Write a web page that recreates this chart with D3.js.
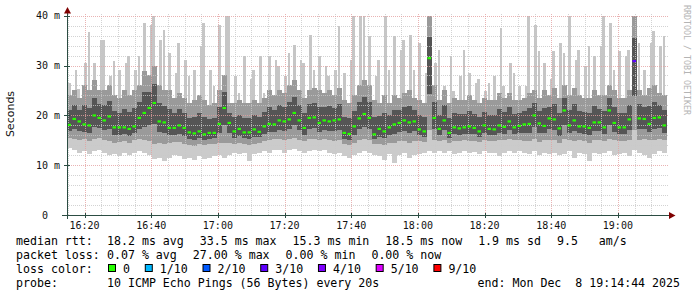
<!DOCTYPE html>
<html>
<head>
<meta charset="utf-8">
<script src="https://cdn.jsdelivr.net/npm/d3@7/dist/d3.min.js"></script>
<style>
  body { margin: 0; background: #fff; }
  svg { display: block; }
  text { font-family: "DejaVu Sans Mono", monospace; white-space: pre; }
</style>
</head>
<body>
<div id="vis"></div>
<script>
// one column = 90 s, 3 hours ending 19:14:44
const start = new Date(2025, 11, 8, 16, 14, 44);
const end = new Date(2025, 11, 8, 19, 14, 44);
const step = 90;

const median = [
  18.1, 19.3, 18.8, 18.2, 18.0, 20.0, 19.5, 19.0, 19.8, 17.6, 17.6, 17.6, 17.3, 17.8, 19.5, 20.5, 21.5, 22.5, 18.8, 18.6, 17.5, 17.5, 18.0, 17.5, 16.6, 16.4, 16.8, 16.2, 16.5, 16.5,
  18.3, 21.5, 18.5, 16.8, 17.3, 16.6, 16.6, 17.2, 16.7, 17.8, 18.3, 18.2, 19.0, 18.8, 19.2, 20.5, 19.0, 17.5, 19.5, 19.6, 18.5, 19.0, 18.8, 19.0, 19.2, 16.5, 16.3, 17.8, 19.4, 20.3,
  19.5, 16.2, 17.3, 16.8, 17.6, 18.2, 18.5, 19.0, 18.6, 18.8, 17.2, 16.8, 31.5, 19.5, 17.3, 19.0, 16.5, 17.6, 17.4, 17.6, 17.8, 17.5, 16.8, 18.0, 17.3, 17.2, 18.0, 17.7, 18.8, 17.6,
  17.9, 18.2, 18.3, 20.0, 18.4, 17.9, 19.4, 19.2, 17.4, 21.0, 18.0, 19.0, 17.8, 17.8, 17.5, 18.6, 18.6, 17.6, 21.0, 18.5, 17.6, 17.6, 19.2, 30.9, 19.4, 19.3, 18.3, 19.5, 19.6, 18.0
];
const lo = [
  13.5, 13.0, 12.5, 12.8, 12.2, 12.8, 13.0, 12.5, 12.0, 12.2, 11.8, 12.5, 12.0, 12.5, 12.8, 12.5, 12.0, 11.2, 11.5, 10.8, 11.5, 12.0, 11.8, 11.2, 11.5, 11.0, 11.8, 11.2, 11.5, 11.8,
  12.0, 11.5, 12.0, 12.5, 12.2, 12.5, 10.8, 12.2, 12.5, 12.8, 12.5, 13.0, 13.0, 12.5, 13.0, 13.2, 12.8, 12.5, 12.8, 13.0, 12.8, 13.0, 12.5, 12.2, 12.5, 11.8, 11.5, 12.0, 12.5, 12.8,
  12.5, 12.0, 11.8, 11.0, 12.2, 10.5, 12.0, 12.5, 11.5, 12.0, 12.2, 12.5, 12.8, 12.5, 12.8, 12.5, 12.8, 12.2, 12.5, 12.8, 12.5, 12.6, 12.2, 12.8, 12.5, 12.4, 11.8, 12.5, 12.8, 12.5,
  12.8, 12.5, 12.2, 12.8, 12.0, 12.5, 12.2, 12.5, 12.0, 12.2, 12.8, 11.5, 12.5, 12.3, 10.8, 12.5, 12.2, 12.5, 12.8, 12.0, 12.3, 12.5, 11.8, 13.0, 12.5, 12.0, 11.5, 12.2, 12.8, 12.5
];
const q1 = [
  15.5, 15.2, 15.0, 15.3, 14.8, 15.2, 15.5, 15.0, 14.8, 14.5, 14.6, 14.8, 14.5, 15.0, 15.2, 15.0, 14.8, 14.2, 14.5, 14.2, 14.5, 14.6, 14.6, 14.3, 14.0, 13.8, 14.2, 14.0, 14.2, 14.3,
  14.5, 14.5, 14.5, 14.3, 14.5, 14.2, 14.0, 14.3, 14.5, 14.8, 15.0, 15.2, 15.2, 15.0, 15.2, 15.5, 15.0, 14.8, 15.2, 15.3, 15.0, 15.2, 15.0, 14.8, 15.0, 14.2, 14.0, 14.5, 15.0, 15.2,
  15.0, 14.3, 14.2, 14.0, 14.5, 14.5, 14.8, 14.8, 14.5, 14.8, 14.8, 14.6, 17.0, 15.0, 14.8, 15.0, 14.5, 14.8, 14.8, 15.0, 14.8, 14.9, 14.6, 15.0, 14.8, 14.8, 15.0, 15.0, 15.2, 15.0,
  15.0, 14.8, 14.8, 15.2, 14.6, 15.0, 15.0, 15.0, 14.5, 15.2, 15.0, 14.8, 15.0, 14.8, 14.5, 15.0, 15.0, 14.8, 15.2, 15.0, 14.8, 14.8, 15.0, 17.0, 15.0, 15.2, 15.0, 15.0, 15.2, 15.0
];
const q3 = [
  24.0, 25.0, 23.5, 26.0, 25.0, 27.0, 25.0, 25.0, 26.0, 24.0, 23.5, 25.0, 24.0, 25.0, 26.0, 29.0, 28.0, 30.0, 26.0, 25.0, 25.0, 23.5, 24.5, 23.5, 22.5, 23.0, 24.0, 23.0, 22.0, 22.5,
  25.0, 28.0, 22.5, 22.5, 23.0, 22.5, 22.5, 23.0, 22.5, 23.5, 25.0, 24.0, 25.0, 24.5, 26.0, 27.0, 25.0, 23.5, 25.0, 25.5, 25.0, 24.5, 25.0, 24.0, 25.5, 23.0, 22.5, 24.0, 26.0, 27.0,
  26.0, 23.0, 22.5, 24.0, 22.5, 24.0, 23.5, 24.5, 25.0, 23.5, 23.0, 22.5, 40.0, 26.0, 23.0, 25.0, 22.5, 23.5, 23.0, 23.0, 24.0, 23.0, 22.5, 23.5, 23.0, 23.0, 24.5, 23.5, 24.5, 23.0,
  23.0, 23.5, 24.5, 25.0, 23.5, 25.0, 24.0, 25.5, 23.5, 26.0, 24.0, 25.5, 24.0, 23.5, 23.5, 25.0, 24.0, 24.0, 26.0, 25.0, 23.5, 23.5, 25.0, 40.0, 25.0, 24.0, 25.5, 26.0, 24.5, 24.0
];
const hi = [
  26.5, 29.2, 25.2, 30.5, 36.8, 30.5, 35.2, 35.2, 27.9, 30.9, 29.2, 30.5, 31.9, 29.2, 31.9, 38.6, 38.2, 40.0, 35.2, 37.2, 32.5, 28.5, 34.5, 31.2, 27.9, 29.2, 33.9, 38.5, 29.2, 25.9,
  38.2, 40.0, 39.9, 27.9, 24.5, 31.9, 27.2, 29.2, 31.9, 24.5, 32.0, 31.2, 29.9, 27.9, 32.5, 34.2, 31.2, 30.5, 36.2, 29.2, 31.9, 29.9, 27.9, 29.2, 38.0, 28.5, 31.2, 39.9, 40.0, 39.9,
  36.0, 27.9, 31.2, 40.0, 29.2, 35.9, 33.2, 35.2, 36.2, 29.2, 34.5, 28.5, 40.0, 30.5, 33.2, 25.9, 31.9, 24.8, 27.9, 33.2, 28.5, 26.5, 27.2, 24.8, 26.5, 27.9, 37.5, 25.9, 30.5, 28.5,
  25.9, 25.9, 39.9, 38.2, 33.0, 30.5, 27.2, 33.0, 34.5, 32.5, 39.9, 31.2, 33.2, 29.9, 34.0, 31.9, 33.9, 39.9, 38.5, 29.2, 33.0, 31.9, 33.2, 40.0, 34.5, 29.2, 34.5, 37.0, 34.0, 36.0
];
// columns with packet loss and their legend class
const lossCol = [113];
const lossLevel = [3];

const lossLabels = ['0', '1/10', '2/10', '3/10', '4/10', '5/10', '9/10'];
const lossColors = ['#26ff00', '#00b8ff', '#0059ff', '#5e00ff', '#7e00ff', '#dd00ff', '#ff0000'];

const yTickValues = [0, 10, 20, 30, 40];
const yTickLabels = [' 0  ', '10 m', '20 m', '30 m', '40 m'];

const rttStats = ['18.2 ms avg', '33.5 ms max', '15.3 ms min', '18.5 ms now', '1.9 ms sd', '9.5   am/s'];
const lossStats = ['0.07 % avg', '27.00 % max', '0.00 % min', '0.00 % now'];
const probeText = '10 ICMP Echo Pings (56 Bytes) every 20s';
const endText = 'end: Mon Dec  8 19:14:44 2025';

const W = 697, H = 297;
const svg = d3.select('#vis').append('svg').attr('width', W).attr('height', H);

const x = d3.scaleTime().domain([start, end]).range([67, 667]);
const y = d3.scaleLinear().domain([0, 40]).range([215, 15.7]);

const colTime = (i) => new Date(start.getTime() + i * step * 1000);

// smoke
const smoke = svg.append('g').attr('shape-rendering', 'crispEdges');
const cols = d3.range(median.length);
const cx = (i) => Math.round(x(colTime(i)));
const cw = (i) => Math.round(x(colTime(i + 1))) - cx(i);
const spikeOff = [1, 2.5, 0, 2, 0.5];

smoke.selectAll('.base').data(cols).join('rect')
  .attr('x', cx).attr('width', cw)
  .attr('y', (i) => y(q3[i])).attr('height', (i) => y(lo[i]) - y(q3[i]))
  .attr('fill', '#cbcbcb');
smoke.selectAll('.spike').data(cols).join('rect')
  .attr('x', (i) => cx(i) + spikeOff[i % spikeOff.length]).attr('width', 2.5)
  .attr('y', (i) => y(hi[i])).attr('height', (i) => y(q3[i]) - y(hi[i]))
  .attr('fill', '#c6c6c6');
smoke.selectAll('.mid').data(cols).join('rect')
  .attr('x', cx).attr('width', cw)
  .attr('y', (i) => y(q3[i])).attr('height', (i) => y(q1[i]) - y(q3[i]))
  .attr('fill', '#9a9a9a');
smoke.selectAll('.core').data(cols).join('rect')
  .attr('x', cx).attr('width', cw)
  .attr('y', (i) => y((q3[i] + median[i]) / 2))
  .attr('height', (i) => y((q1[i] + median[i]) / 2) - y((q3[i] + median[i]) / 2))
  .attr('fill', '#555555');

const lossOf = (i) => {
  const k = lossCol.indexOf(i);
  return k < 0 ? 0 : lossLevel[k];
};

// grid (dotted, drawn over the smoke like rrdtool does)
const grid = svg.append('g').attr('shape-rendering', 'crispEdges');
const minorX = d3.timeMinute.every(5).range(start, end);
const majorX = d3.timeMinute.every(20).range(start, end);
const minorY = d3.range(2, 41, 2).filter((d) => d % 10 !== 0);

grid.selectAll('.gx').data(minorX.filter((d) => d.getMinutes() % 20 !== 0)).join('line')
  .attr('x1', (d) => Math.round(x(d)) + 0.5).attr('x2', (d) => Math.round(x(d)) + 0.5)
  .attr('y1', y(0)).attr('y2', y(40) - 2)
  .attr('stroke', '#c8c8c8').attr('stroke-opacity', 0.8).attr('stroke-dasharray', '1,1');
grid.selectAll('.gy').data(minorY).join('line')
  .attr('y1', (d) => Math.round(y(d)) + 0.5).attr('y2', (d) => Math.round(y(d)) + 0.5)
  .attr('x1', 67).attr('x2', 668)
  .attr('stroke', '#c8c8c8').attr('stroke-opacity', 0.8).attr('stroke-dasharray', '1,1');
grid.selectAll('.mx').data(majorX).join('line')
  .attr('x1', (d) => Math.round(x(d)) + 0.5).attr('x2', (d) => Math.round(x(d)) + 0.5)
  .attr('y1', y(0)).attr('y2', y(40) - 2)
  .attr('stroke', '#e4a0a0').attr('stroke-opacity', 0.8).attr('stroke-dasharray', '1,1');
grid.selectAll('.my').data(yTickValues.slice(1)).join('line')
  .attr('y1', (d) => Math.round(y(d)) + 0.5).attr('y2', (d) => Math.round(y(d)) + 0.5)
  .attr('x1', 67).attr('x2', 668)
  .attr('stroke', '#e4a0a0').attr('stroke-opacity', 0.8).attr('stroke-dasharray', '1,1');

svg.append('g').selectAll('.med').data(cols).join('rect')
  .attr('x', (i) => cx(i) + 0.5).attr('width', 3.5)
  .attr('y', (i) => y(median[i]) - 1).attr('height', 2.2)
  .attr('fill', (i) => lossColors[lossOf(i)]);

// axes
const axis = svg.append('g').attr('shape-rendering', 'crispEdges');
axis.append('line').attr('x1', 62).attr('x2', 669).attr('y1', 215.5).attr('y2', 215.5)
  .attr('stroke', '#2c4d43');
axis.append('line').attr('x1', 67.5).attr('x2', 67.5).attr('y1', 219).attr('y2', 11)
  .attr('stroke', '#2c4d43');
axis.selectAll('.tx').data(majorX).join('line')
  .attr('x1', (d) => Math.round(x(d)) + 0.5).attr('x2', (d) => Math.round(x(d)) + 0.5)
  .attr('y1', 213).attr('y2', 218).attr('stroke', '#2c4d43');
axis.selectAll('.ty').data(yTickValues).join('line')
  .attr('y1', (d) => Math.round(y(d)) + 0.5).attr('y2', (d) => Math.round(y(d)) + 0.5)
  .attr('x1', 64).attr('x2', 70).attr('stroke', '#2c4d43');
svg.append('path').attr('d', 'M64,13.5 L71,13.5 L67.5,7 Z').attr('fill', '#7f0000');
svg.append('path').attr('d', 'M669,212 L669,219 L675.5,215.5 Z').attr('fill', '#7f0000');

// tick labels
svg.append('g').selectAll('text').data(yTickValues).join('text')
  .attr('x', 60).attr('y', (d) => y(d) + 3.5)
  .attr('text-anchor', 'end').attr('font-size', '10px').attr('fill', '#111')
  .text((d, i) => yTickLabels[i]);

svg.append('g').selectAll('text').data(majorX).join('text')
  .attr('x', (d) => x(d)).attr('y', 229)
  .attr('text-anchor', 'middle').attr('font-size', '10px').attr('fill', '#111')
  .text(d3.timeFormat('%H:%M'));

svg.append('text')
  .attr('transform', 'translate(14,114) rotate(-90)')
  .attr('text-anchor', 'middle').attr('font-size', '11px')
  .style('font-family', '"DejaVu Sans", sans-serif')
  .attr('fill', '#111').text('Seconds');

svg.append('text')
  .attr('transform', 'translate(684,5) rotate(90)')
  .attr('font-size', '8.3px').attr('fill', '#b4b4b4')
  .text('RRDTOOL / TOBI OETIKER');

// legend
const legend = svg.append('g').attr('font-size', '11.6px').attr('fill', '#000');
const rowY = [245, 259, 273, 287];
const valX = 107;

function row(label, pieces, yy) {
  legend.append('text').attr('x', 16).attr('y', yy).text(label);
  let px = valX;
  pieces.forEach((p) => {
    const t = legend.append('text').attr('x', px).attr('y', yy).text(p);
    px += t.node().getComputedTextLength() + 16;
  });
}
row('median rtt:', rttStats, rowY[0]);
row('packet loss:', lossStats, rowY[1]);
row('probe:', [probeText], rowY[3]);
legend.append('text').attr('x', 680).attr('y', rowY[3]).attr('text-anchor', 'end').text(endText);

legend.append('text').attr('x', 16).attr('y', rowY[2]).text('loss color:');
let bx = 108.5;
lossLabels.forEach((lab, i) => {
  legend.append('rect').attr('x', bx).attr('y', 264.5).attr('width', 7).attr('height', 7)
    .attr('fill', lossColors[i]).attr('stroke', '#000').attr('stroke-width', 1);
  const t = legend.append('text').attr('x', bx + 14.5).attr('y', rowY[2]).text(lab);
  bx += 14.5 + t.node().getComputedTextLength() + 15.3;
});
</script>
</body>
</html>
